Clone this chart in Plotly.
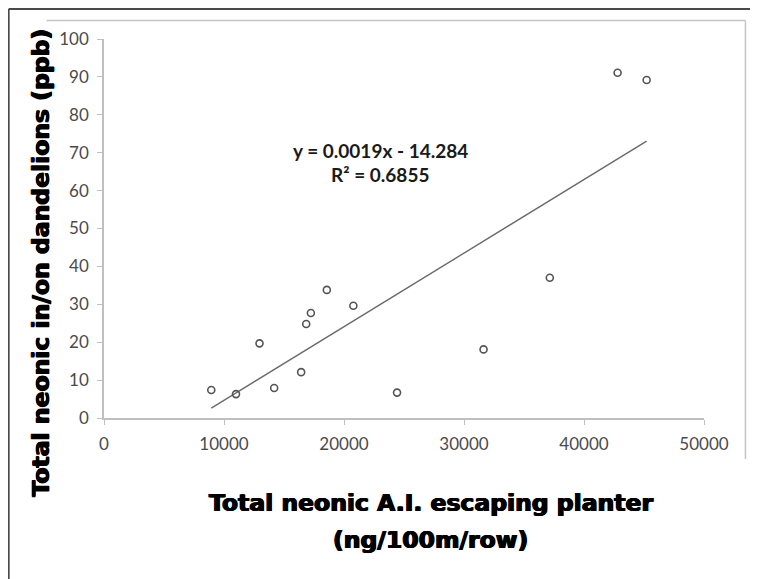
import numpy as np
import plotly.graph_objects as go

# Data
ai_escaping = [8940, 11000, 12960, 14180, 16430, 16850, 17240, 18570, 20780,
               24420, 31630, 37150, 42800, 45220]
neonic_dandelion = [7.4, 6.3, 19.7, 7.9, 12.1, 24.8, 27.7, 33.8, 29.6,
                    6.7, 18.1, 37.0, 91.1, 89.2]
x_ticks = [0, 10000, 20000, 30000, 40000, 50000]
x_tick_labels = ["0", "10000", "20000", "30000", "40000", "50000"]
y_ticks = [0, 10, 20, 30, 40, 50, 60, 70, 80, 90, 100]
equation_text = "y = 0.0019x - 14.284"
r2_text = "R² = 0.6855"

# page has an 8px body margin; work in window pixels and shift
OFF = 8
W, H = 758 - OFF, 579 - OFF
X0, X1 = 103.5, 704.5   # window px of x=0 and x=50000
Y0, Y1 = 418, 39        # window px of y=0 and y=100
L, R = X0 - OFF, (W + OFF) - X1
T, B = Y1 - OFF, (H + OFF) - Y0
pw, ph = X1 - X0, Y0 - Y1


def px(x):
    return (x - X0) / pw


def py(y):
    return (Y0 - y) / ph


slope, intercept = np.polyfit(ai_escaping, neonic_dandelion, 1)
tx = np.array([min(ai_escaping), max(ai_escaping)])
ty = slope * tx + intercept

fig = go.Figure()
fig.add_trace(go.Scatter(x=tx, y=ty, mode="lines",
                         line=dict(color="#6a6a6a", width=1.4),
                         hoverinfo="skip", showlegend=False))
fig.add_trace(go.Scatter(x=ai_escaping, y=neonic_dandelion, mode="markers",
                         marker=dict(symbol="circle-open", size=7,
                                     color="#555555", line=dict(width=1.6)),
                         showlegend=False))

tick_font = dict(family="Lato, Open Sans, sans-serif", size=17, color="#4a4a4a")
fig.update_xaxes(range=[0, 50000], tickvals=x_ticks, ticktext=x_tick_labels,
                 ticks="outside", ticklen=5, ticklabelstandoff=5,
                 tickcolor="#bfbfbf", showline=True, linecolor="#bfbfbf",
                 linewidth=1.5, showgrid=False, zeroline=False,
                 tickfont=tick_font, fixedrange=True)
fig.update_yaxes(range=[0, 100], tickvals=y_ticks, ticks="outside", ticklen=5,
                 ticklabelstandoff=5,
                 tickcolor="#bfbfbf", showline=True, linecolor="#bfbfbf",
                 linewidth=1.5, showgrid=False, zeroline=False,
                 tickfont=tick_font, fixedrange=True)

title_font = dict(family="DejaVu Sans, sans-serif", size=23.5,
                  color="#000000", weight="bold",
                  shadow="0.7px 0 0 #000, -0.7px 0 0 #000, 0 0.4px 0 #000")
eq_font = dict(family="Lato, Open Sans, sans-serif", size=19, color="#1a1a1a",
               weight="bold")

annotations = [
    dict(x=px(431), y=py(503), xref="paper", yref="paper",
         text="Total neonic A.I. escaping planter", showarrow=False,
         font=title_font, xanchor="center", yanchor="middle"),
    dict(x=px(431), y=py(540), xref="paper", yref="paper",
         text="(ng/100m/row)", showarrow=False,
         font=title_font, xanchor="center", yanchor="middle"),
    dict(x=px(40), y=py(263), xref="paper", yref="paper",
         text="Total neonic in/on dandelions (ppb)", showarrow=False,
         font=title_font, textangle=-90, xanchor="center", yanchor="middle"),
    dict(x=px(380), y=py(150), xref="paper", yref="paper",
         text=equation_text, showarrow=False,
         font=eq_font, xanchor="center", yanchor="middle"),
    dict(x=px(380), y=py(174), xref="paper", yref="paper",
         text=r2_text, showarrow=False,
         font=eq_font, xanchor="center", yanchor="middle"),
]

shapes = [
    # outer frame (left and top)
    dict(type="line", xref="paper", yref="paper", x0=px(8), x1=px(8),
         y0=py(9), y1=py(600), line=dict(color="#4a4a4a", width=2)),
    dict(type="line", xref="paper", yref="paper", x0=px(8), x1=px(800),
         y0=py(9), y1=py(9), line=dict(color="#4a4a4a", width=2)),
    # inner chart-area frame (top and right)
    dict(type="line", xref="paper", yref="paper", x0=px(46), x1=px(746),
         y0=py(20.5), y1=py(20.5), line=dict(color="#c4c4c4", width=1.5)),
    dict(type="line", xref="paper", yref="paper", x0=px(746), x1=px(746),
         y0=py(20.5), y1=py(459), line=dict(color="#c4c4c4", width=1.5)),
]

fig.update_layout(width=W, height=H, margin=dict(l=L, r=R, t=T, b=B),
                  paper_bgcolor="white", plot_bgcolor="white",
                  annotations=annotations, shapes=shapes, showlegend=False)

fig.write_html("out.html")
